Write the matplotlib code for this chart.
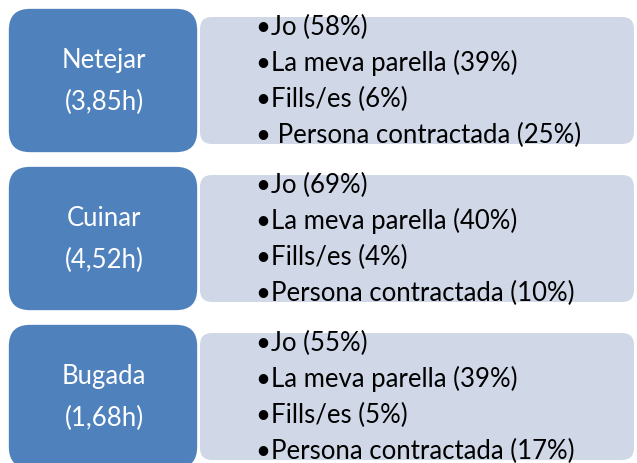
import matplotlib
matplotlib.use("Agg")
import matplotlib.pyplot as plt
from matplotlib.patches import FancyBboxPatch

tasks = ["Netejar", "Cuinar", "Bugada"]
hours = ["3,85", "4,52", "1,68"]
who = ["Jo", "La meva parella", "Fills/es", "Persona contractada"]
pct_netejar = [58, 39, 6, 25]
pct_cuinar = [69, 40, 4, 10]
pct_bugada = [55, 39, 5, 17]
pcts = [pct_netejar, pct_cuinar, pct_bugada]

W, H = 637, 464
fig = plt.figure(figsize=(W / 100, H / 100), dpi=100)
ax = fig.add_axes([0, 0, 1, 1])
ax.set_xlim(0, W)
ax.set_ylim(H, 0)
ax.axis("off")

BLUE = "#4F81BD"
LIGHT = "#D0D8E8"
FONT = ["Lato", "DejaVu Sans"]
FS = 18.5

blue_tops = [9, 167, 325]
light_tops = [18, 176, 334]
blue_h = 145
light_h = 127
baselines = [17, 53, 89, 125]

for i, task in enumerate(tasks):
    bt, lt = blue_tops[i], light_tops[i]
    light = FancyBboxPatch((200, lt), 434, light_h,
                           boxstyle="round,pad=0,rounding_size=12",
                           fc=LIGHT, ec="none", zorder=1)
    ax.add_patch(light)
    blue = FancyBboxPatch((8, bt), 190, blue_h,
                          boxstyle="round,pad=0,rounding_size=22",
                          fc=BLUE, ec="white", lw=1.2, zorder=2)
    ax.add_patch(blue)
    ax.text(104, bt + 59, task, color="white", fontsize=FS, family=FONT,
            ha="center", va="baseline", zorder=3)
    ax.text(104, bt + 101, f"({hours[i]}h)", color="white", fontsize=FS,
            family=FONT, ha="center", va="baseline", zorder=3)
    for j, name in enumerate(who):
        bullet = "\u2022 " if (i == 0 and j == 3) else "\u2022"
        ax.text(256, lt + baselines[j], f"{bullet}{name} ({pcts[i][j]}%)",
                color="black", fontsize=FS, family=FONT,
                ha="left", va="baseline", zorder=3)

fig.savefig("out.png", dpi=100)
